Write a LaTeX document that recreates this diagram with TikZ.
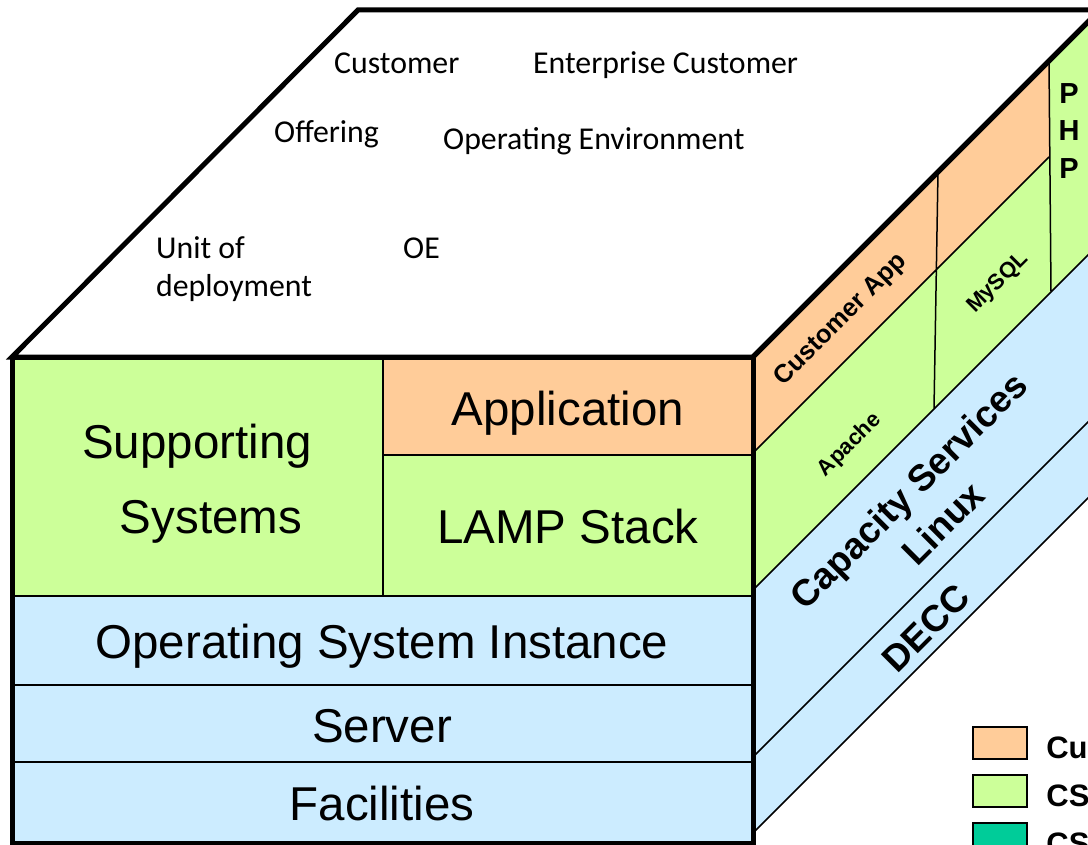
\documentclass[tikz,border=0pt]{standalone}
\usepackage{fontspec}
\setmainfont{Liberation Sans}
\newfontfamily\calfont{Carlito}
\usetikzlibrary{positioning}

\definecolor{appOrange}{RGB}{255,204,153}
\definecolor{csGreen}{RGB}{204,255,153}
\definecolor{osBlue}{RGB}{204,236,255}
\definecolor{csTeal}{RGB}{0,204,153}

\begin{document}
\begin{tikzpicture}[x=1pt, y=-1pt,
    node distance = 48pt,
    on grid,
    thin edge/.style={draw=black, line width=1.8pt},
    heavy edge/.style={draw=black, line width=5pt},
    front label/.style={anchor=base, inner sep=0pt,
        font=\fontsize{47.5}{56}\selectfont},
    top label/.style={anchor=base west, inner sep=0pt,
        font=\calfont\fontsize{31.8}{38}\selectfont},
    side label/.style={rotate=45, inner sep=0pt,
        font=\bfseries\fontsize{#1}{#1}\selectfont},
    key box/.style={draw=black, line width=1.8pt, inner sep=0pt,
        minimum width=54pt, minimum height=32pt},
    key label/.style={inner sep=0pt, font=\bfseries\fontsize{31}{36}\selectfont}]

    \useasboundingbox (0,0) rectangle (1088,845);
    \clip (0,0) rectangle (1088,845);

    % Top face
    \filldraw [fill=white, heavy edge] (12,357) -- (358,10) -- (1100,10) -- (753,357) -- cycle;

    % Right face
    \fill [csGreen] (753,357) -- ++(347,-347) -- ++(0,233) -- (753,590) -- cycle;
    \fill [appOrange] (753,357) -- (1049,61) -- (1049,157) -- (753,453) -- cycle;
    \fill [osBlue] (753,590) -- ++(347,-347) -- ++(0,243) -- (753,833) -- cycle;
    \draw [thin edge, line width=1.5pt]
        (753,453) -- (1049,157)
        (938,172) -- (934,409)
        (1049,61) -- (1051,292)
        (753,590) -- ++(347,-347)
        (753,757) -- ++(347,-347)
        (753,833) -- ++(347,-347);
    \draw [heavy edge] (753,357) -- (1100,10);

    % Front face
    \fill [csGreen] (12,357) rectangle (383,596);
    \fill [appOrange] (383,357) rectangle (753,455);
    \fill [csGreen] (383,455) rectangle (753,596);
    \fill [osBlue] (12,596) rectangle (753,843);
    \draw [thin edge]
        (383,357) -- (383,596)
        (383,455) -- (753,455)
        (12,596) -- (753,596)
        (12,685) -- (753,685)
        (12,762) -- (753,762);
    \draw [heavy edge] (12,357) rectangle (753,843);

    % Top face labels
    \node (customer) [top label] at (334,74) {Customer};
    \node (enterprise) [top label] at (533,74) {Enterprise Customer};
    \node (offering) [top label] at (274,143) {Offering};
    \node (openv) [top label] at (443,150) {Operating Environment};
    \node (unit) [top label] at (156,259) {Unit of};
    \node (deploy) [top label] at (156,297) {deployment};
    \node (oe) [top label] at (403,259) {OE};

    % Front face labels
    \node (supporting) [front label] at (197,458) {Supporting};
    \node (systems) [front label] at (211,533) {Systems};
    \node (application) [front label] at (568,425) {Application};
    \node (lamp) [front label] at (568,543) {LAMP Stack};
    \node (osi) [front label] at (382,658) {Operating System Instance};
    \node (server) [front label] at (382,742) {Server};
    \node (facilities) [front label] at (382,820) {Facilities};

    % Right face labels
    \node (custapp) [side label=25.5] at (841,320) {Customer App};
    \node (apache) [side label=22] at (850,445) {Apache};
    \node (mysql) [side label=22] at (998,283) {MySQL};
    \node (capacity) [side label=37] at (911,493) {Capacity Services};
    \node (linux) [side label=37] at (943,523) {Linux};
    \node (decc) [side label=37] at (926,628) {DECC};
    \node (php) [inner sep=0pt, align=center,
        font=\bfseries\fontsize{29}{37.5}\selectfont] at (1069,131) {P\\H\\P};

    % Legend
    \node (keyapp) [key box, fill=appOrange] at (1000,743) {};
    \node (keycs) [key box, fill=csGreen, below=of keyapp] {};
    \node (keyteal) [key box, fill=csTeal, below=of keycs] {};
    \node (keyapp text) [key label, right=67pt of keyapp, yshift=-5pt] {Cu};
    \node (keycs text) [key label, right=68pt of keycs, yshift=-5pt] {CS};
    \node (keyteal text) [key label, right=68pt of keyteal, yshift=-5pt] {CS};
\end{tikzpicture}
\end{document}
